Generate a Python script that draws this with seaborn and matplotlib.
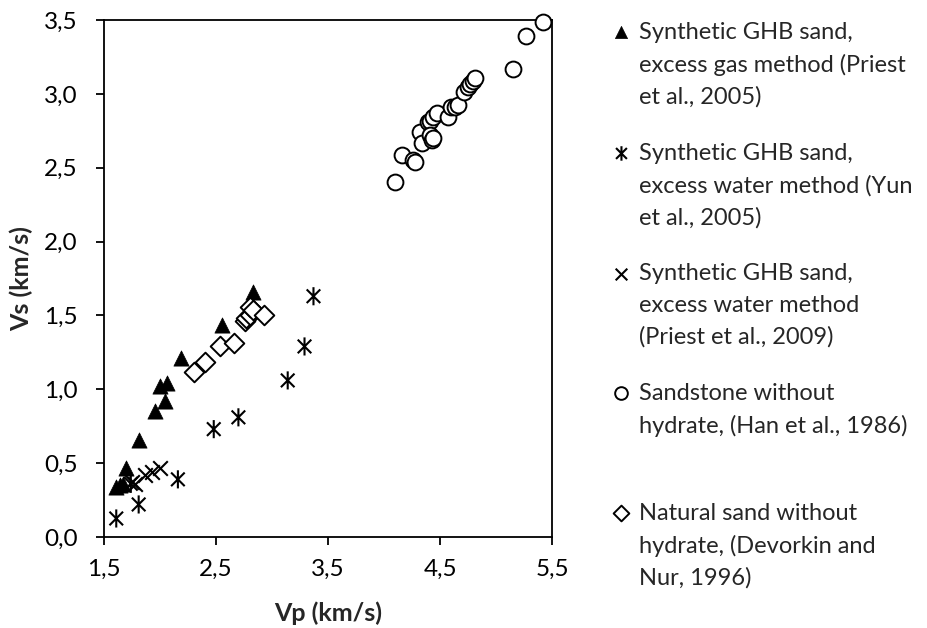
import numpy as np
import pandas as pd
from matplotlib import pyplot as plt
from matplotlib.path import Path
from matplotlib.ticker import FuncFormatter, FixedLocator
import seaborn as sns

# Vp / Vs data (km/s)
priest05_vp = [1.61, 1.64, 1.67, 1.70, 1.81, 1.955, 2.00, 2.045, 2.06, 2.19, 2.55, 2.83]
priest05_vs = [0.34, 0.35, 0.36, 0.465, 0.655, 0.85, 1.02, 0.92, 1.04, 1.21, 1.435, 1.66]

yun05_vp = [1.61, 1.74, 1.81, 2.16, 2.48, 2.70, 3.14, 3.29, 3.37]
yun05_vs = [0.125, 0.36, 0.22, 0.39, 0.73, 0.81, 1.06, 1.29, 1.63]

priest09_vp = [1.75, 1.78, 1.87, 1.93, 2.00]
priest09_vs = [0.37, 0.36, 0.42, 0.44, 0.47]

han86_vp = [4.10, 4.16, 4.26, 4.28, 4.32, 4.34, 4.39, 4.41, 4.41, 4.43, 4.44, 4.44, 4.47,
            4.57, 4.60, 4.63, 4.66, 4.71, 4.75, 4.77, 4.79, 4.81, 5.15, 5.27, 5.42]
han86_vs = [2.405, 2.585, 2.55, 2.54, 2.745, 2.665, 2.81, 2.82, 2.72, 2.69, 2.845, 2.70, 2.87,
            2.845, 2.91, 2.91, 2.925, 3.015, 3.05, 3.07, 3.09, 3.105, 3.17, 3.39, 3.49]

devorkin_vp = [2.30, 2.40, 2.54, 2.66, 2.76, 2.77, 2.80, 2.80, 2.83, 2.93]
devorkin_vs = [1.12, 1.185, 1.29, 1.31, 1.46, 1.48, 1.50, 1.56, 1.54, 1.50]

x_ticks = [1.5, 2.5, 3.5, 4.5, 5.5]
y_ticks = [0.0, 0.5, 1.0, 1.5, 2.0, 2.5, 3.0, 3.5]

labels = [
    'Synthetic GHB sand,\nexcess gas method (Priest\net al., 2005)',
    'Synthetic GHB sand,\nexcess water method (Yun\net al., 2005)',
    'Synthetic GHB sand,\nexcess water method\n(Priest et al., 2009)',
    'Sandstone without\nhydrate, (Han et al., 1986)\n',
    'Natural sand without\nhydrate, (Devorkin and\nNur, 1996)',
]

sns.set_style('ticks')
plt.rcParams['font.family'] = ['Lato', 'DejaVu Sans']

# Excel style asterisk: vertical bar plus an X
asterisk = Path([(0, -1), (0, 1), (-0.75, -0.75), (0.75, 0.75), (-0.75, 0.75), (0.75, -0.75)],
                [Path.MOVETO, Path.LINETO, Path.MOVETO, Path.LINETO, Path.MOVETO, Path.LINETO])

fig = plt.figure(figsize=(9.28, 6.28), dpi=100)
ax = fig.add_axes([0.112, 0.145, 0.483, 0.823])

series = [
    (priest05_vp, priest05_vs, dict(marker='^', s=120, facecolor='black', edgecolor='black', linewidth=0.5)),
    (yun05_vp, yun05_vs, dict(marker=asterisk, s=170, facecolor='none', edgecolor='black', linewidth=1.5)),
    (priest09_vp, priest09_vs, dict(marker='x', s=110, color='black', edgecolor='black', linewidth=1.5)),
    (han86_vp, han86_vs, dict(marker='o', s=130, facecolor='white', edgecolor='black', linewidth=1.4)),
    (devorkin_vp, devorkin_vs, dict(marker='D', s=100, facecolor='white', edgecolor='black', linewidth=1.4)),
]
for (vp, vs, kw), lab in zip(series, labels):
    sns.scatterplot(x=vp, y=vs, ax=ax, label=lab, clip_on=False, zorder=3, **kw)

ax.set_xlim(1.5, 5.5)
ax.set_ylim(0, 3.5)
ax.xaxis.set_major_locator(FixedLocator(x_ticks))
ax.yaxis.set_major_locator(FixedLocator(y_ticks))
comma = FuncFormatter(lambda v, p: f'{v:.1f}'.replace('.', ','))
ax.xaxis.set_major_formatter(comma)
ax.yaxis.set_major_formatter(comma)
ax.tick_params(direction='out', length=6, width=1.3, labelsize=17.5, color='black', labelcolor='black')
ax.tick_params(axis='x', pad=10)
ax.tick_params(axis='y', pad=13)
for sp in ax.spines.values():
    sp.set_linewidth(1.3)
    sp.set_color('black')
ax.set_xlabel('Vp (km/s)', fontsize=18, fontweight='bold', labelpad=15)
ax.set_ylabel('Vs (km/s)', fontsize=18, fontweight='bold', labelpad=8)

leg = ax.legend(loc='upper left', bbox_to_anchor=(0.6595, 0.965), bbox_transform=fig.transFigure,
                frameon=False, fontsize=17, markerscale=0.8, handletextpad=0.35,
                handlelength=0.8, labelspacing=1.49, borderpad=0, borderaxespad=0)
for hp in leg._legend_handle_box.get_children()[0].get_children():
    hp.align = 'top'
for t in leg.get_texts():
    t.set_linespacing(1.6)

plt.savefig('out.png', dpi=100)
